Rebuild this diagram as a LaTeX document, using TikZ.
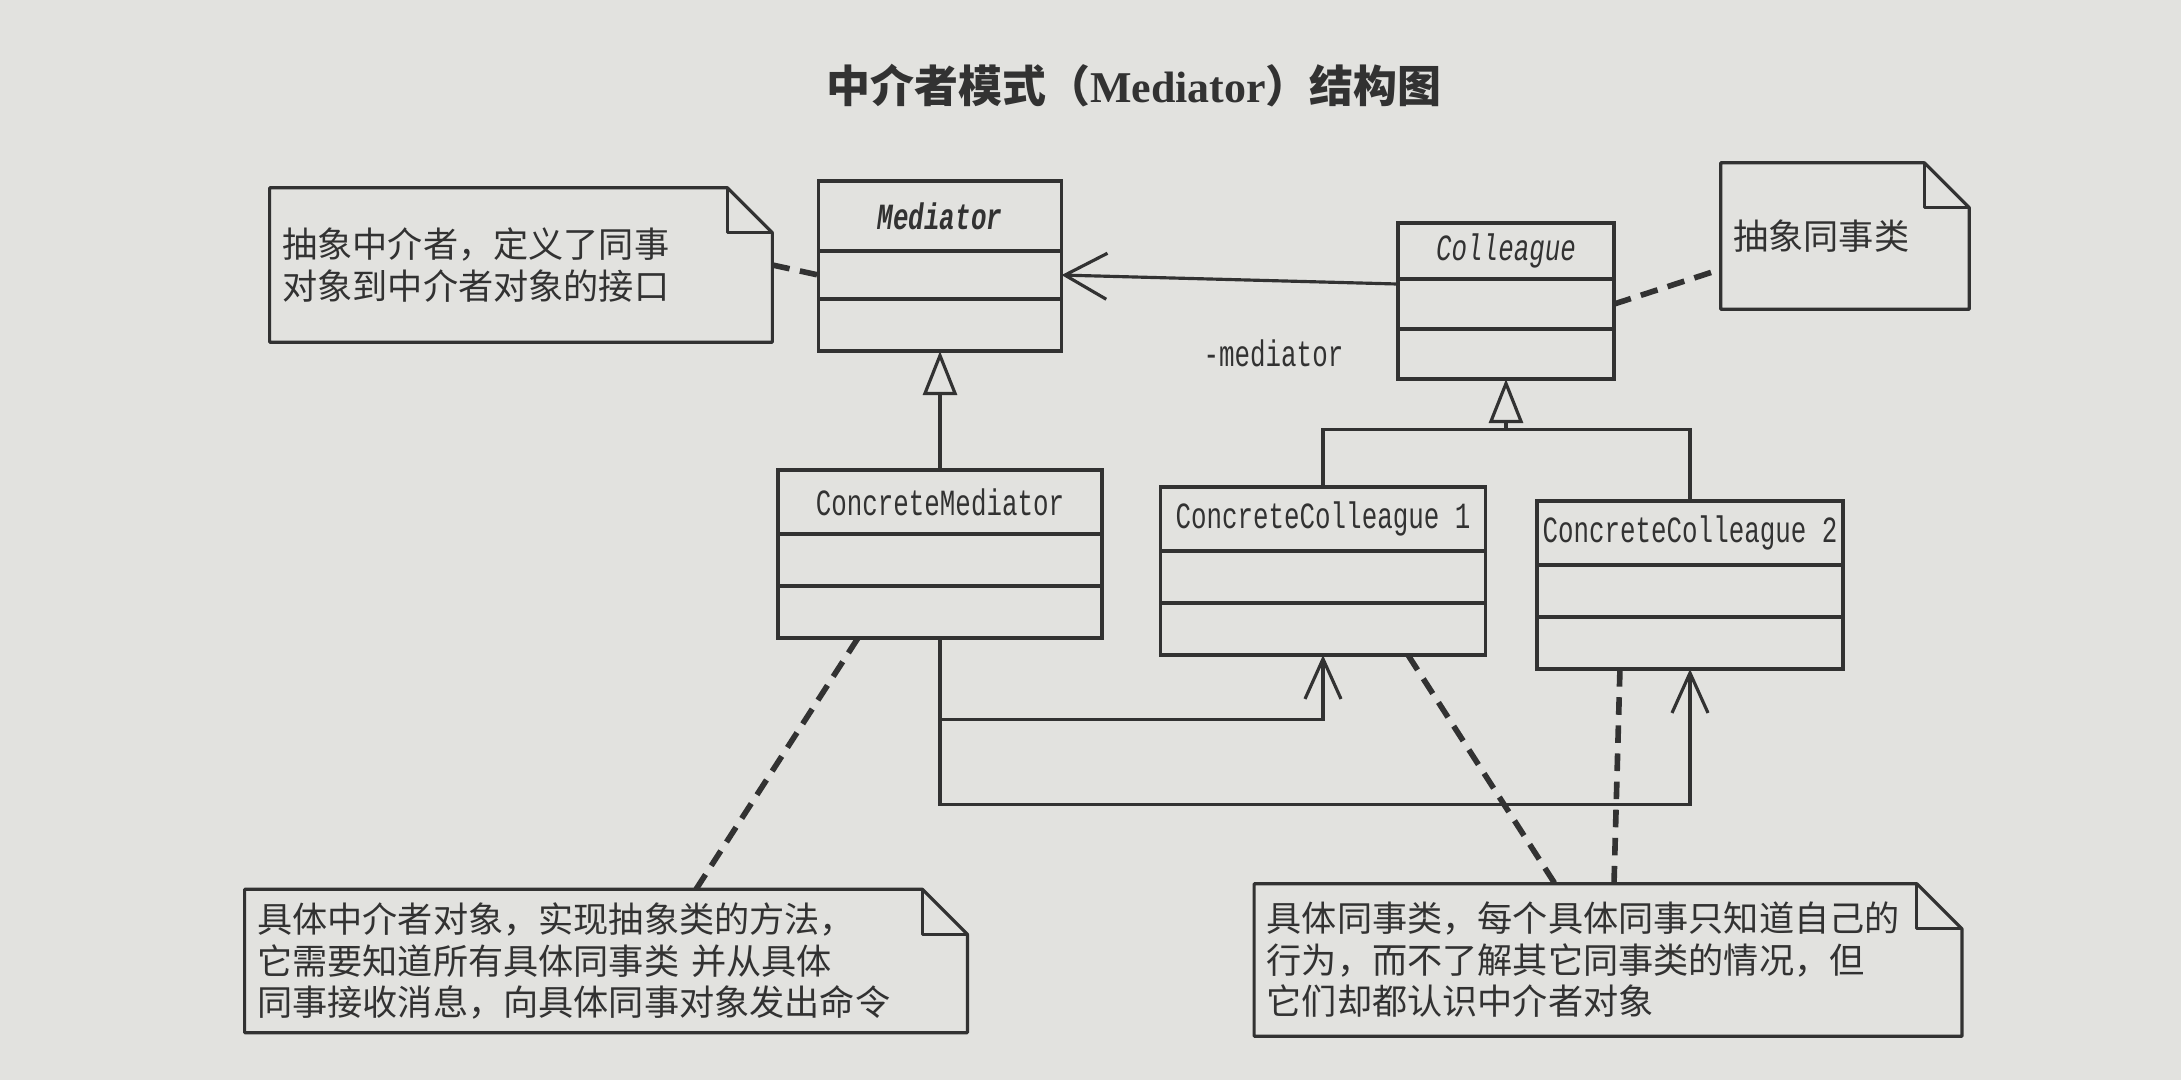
\documentclass[tikz,border=0pt]{standalone}
\usepackage{fontspec}
\setmainfont{Liberation Serif}
\newfontfamily\cjk{Noto Sans CJK SC}
\newfontfamily\umlfont{Liberation Mono}[FakeStretch=0.7]
\usetikzlibrary{positioning,arrows.meta}

\definecolor{ink}{RGB}{50,50,50}
\definecolor{paper}{RGB}{226,226,223}

% folded corner of a note
\newcommand{\notefold}[1]{%
  \draw[noteline] (#1.north west) -- ([xshift=-4.5mm]#1.north east)
     -- ([yshift=-4.5mm]#1.north east) -- (#1.south east) -- (#1.south west) -- cycle;
  \draw[noteline] ([xshift=-4.5mm]#1.north east) |- ([yshift=-4.5mm]#1.north east);
}

\begin{document}
\begin{tikzpicture}[x=0.01cm,y=-0.01cm,
   clsname/.style={draw=ink,line width=1pt,anchor=north,inner sep=0pt,outer sep=0pt,
      minimum height=6.4mm,text=ink,font=\umlfont\fontsize{10.5}{12}\selectfont},
   clspart/.style={draw=ink,line width=1pt,inner sep=0pt,outer sep=0pt,minimum height=5.2mm},
   note/.style={inner xsep=1.2mm,inner ysep=0pt,align=left,text=ink,
      font=\cjk\fontsize{10}{11.8}\selectfont},
   noteline/.style={draw=ink,line width=0.9pt,line join=round},
   notelink/.style={draw=ink,line width=1.6pt,dash pattern=on 5pt off 3pt},
   inherit/.style={draw=ink,line width=0.9pt,-{Triangle[open,length=4.4mm,width=3.4mm]}},
   assoc/.style={draw=ink,line width=0.9pt,-{Straight Barb[length=4mm,width=3.6mm]}}]
\useasboundingbox (0,0) rectangle (2181,1080);
\fill[paper] (0,0) rectangle (2181,1080);

\node[text=ink] (title) at (1134,86)
   {\cjk\bfseries\fontsize{12.5}{14}\selectfont 中介者模式（{\rmfamily Mediator}）结构图};

% classes
\node[clsname,minimum width=2.43cm,minimum height=7mm] (med) at (940,181) {\textbf{\textit{Mediator}}};
\node[clspart,minimum width=2.43cm,minimum height=4.8mm,below=0pt of med] (medattr) {};
\node[clspart,minimum width=2.43cm,below=0pt of medattr] (medop) {};

\node[clsname,minimum width=2.16cm,minimum height=5.6mm] (col) at (1506,223) {\textit{Colleague}};
\node[clspart,minimum width=2.16cm,minimum height=5mm,below=0pt of col] (colattr) {};
\node[clspart,minimum width=2.16cm,minimum height=5mm,below=0pt of colattr] (colop) {};

\node[clsname,minimum width=3.24cm] (cm) at (940,470) {ConcreteMediator};
\node[clspart,minimum width=3.24cm,below=0pt of cm] (cmattr) {};
\node[clspart,minimum width=3.24cm,below=0pt of cmattr] (cmop) {};

\node[clsname,minimum width=3.25cm] (cc1) at (1323,487) {ConcreteColleague 1};
\node[clspart,minimum width=3.25cm,below=0pt of cc1] (cc1attr) {};
\node[clspart,minimum width=3.25cm,below=0pt of cc1attr] (cc1op) {};

\node[clsname,minimum width=3.06cm] (cc2) at (1690,501) {ConcreteColleague 2};
\node[clspart,minimum width=3.06cm,below=0pt of cc2] (cc2attr) {};
\node[clspart,minimum width=3.06cm,below=0pt of cc2attr] (cc2op) {};

% notes
\node[note,minimum width=5.01cm,minimum height=1.53cm,text width=4.77cm] (n1) at (521,265)
   {抽象中介者，定义了同事\\对象到中介者对象的接口};
\node[note,minimum width=2.47cm,minimum height=1.45cm,text width=2.23cm] (n2) at (1845,236)
   {抽象同事类};
\node[note,minimum width=7.21cm,minimum height=1.42cm,text width=6.97cm] (n3) at (606,961)
   {具体中介者对象，实现抽象类的方法，\\它需要知道所有具体同事类 并从具体\\同事接收消息，向具体同事对象发出命令};
\node[note,minimum width=7.06cm,minimum height=1.51cm,text width=6.82cm] (n4) at (1608,960)
   {具体同事类，每个具体同事只知道自己的\\行为，而不了解其它同事类的情况，但\\它们却都认识中介者对象};
\notefold{n1}
\notefold{n2}
\notefold{n3}
\notefold{n4}

% generalisation
\draw[inherit] (cm.north) -- (medop.south);
\coordinate[below=5mm of colop.south] (colfork);
\draw[inherit] (colfork) -- (colop.south);
\draw[draw=ink,line width=0.9pt] (cc1.north) |- (colfork) -| (cc2.north);

% associations
\draw[draw=ink,line width=0.9pt,-{Straight Barb[length=4.2mm,width=4.6mm]}]
   ([yshift=2mm]colattr.west) -- (medattr.east)
   node[pos=0.37,below=4.6mm,text=ink,font=\umlfont\fontsize{10.5}{12}\selectfont] (rolelbl) {-mediator};
\coordinate[below=8.1mm of cmop.south] (bend1);
\coordinate[below=16.6mm of cmop.south] (bend2);
\draw[assoc] (cmop.south) -- (bend1) -| (cc1op.south);
\draw[assoc] (bend1) -- (bend2) -| (cc2op.south);

% note links
\draw[notelink] (n1.east) -- (medattr.west);
\draw[notelink] (colattr.east) -- (n2.195);
\draw[notelink] ([xshift=-8.2mm]cmop.south) -- ([xshift=9mm]n3.north);
\draw[notelink] ([xshift=8.5mm]cc1op.south) -- ([xshift=-5.3mm]n4.north);
\draw[notelink] ([xshift=-7mm]cc2op.south) -- ([xshift=0.6mm]n4.north);
\end{tikzpicture}
\end{document}
